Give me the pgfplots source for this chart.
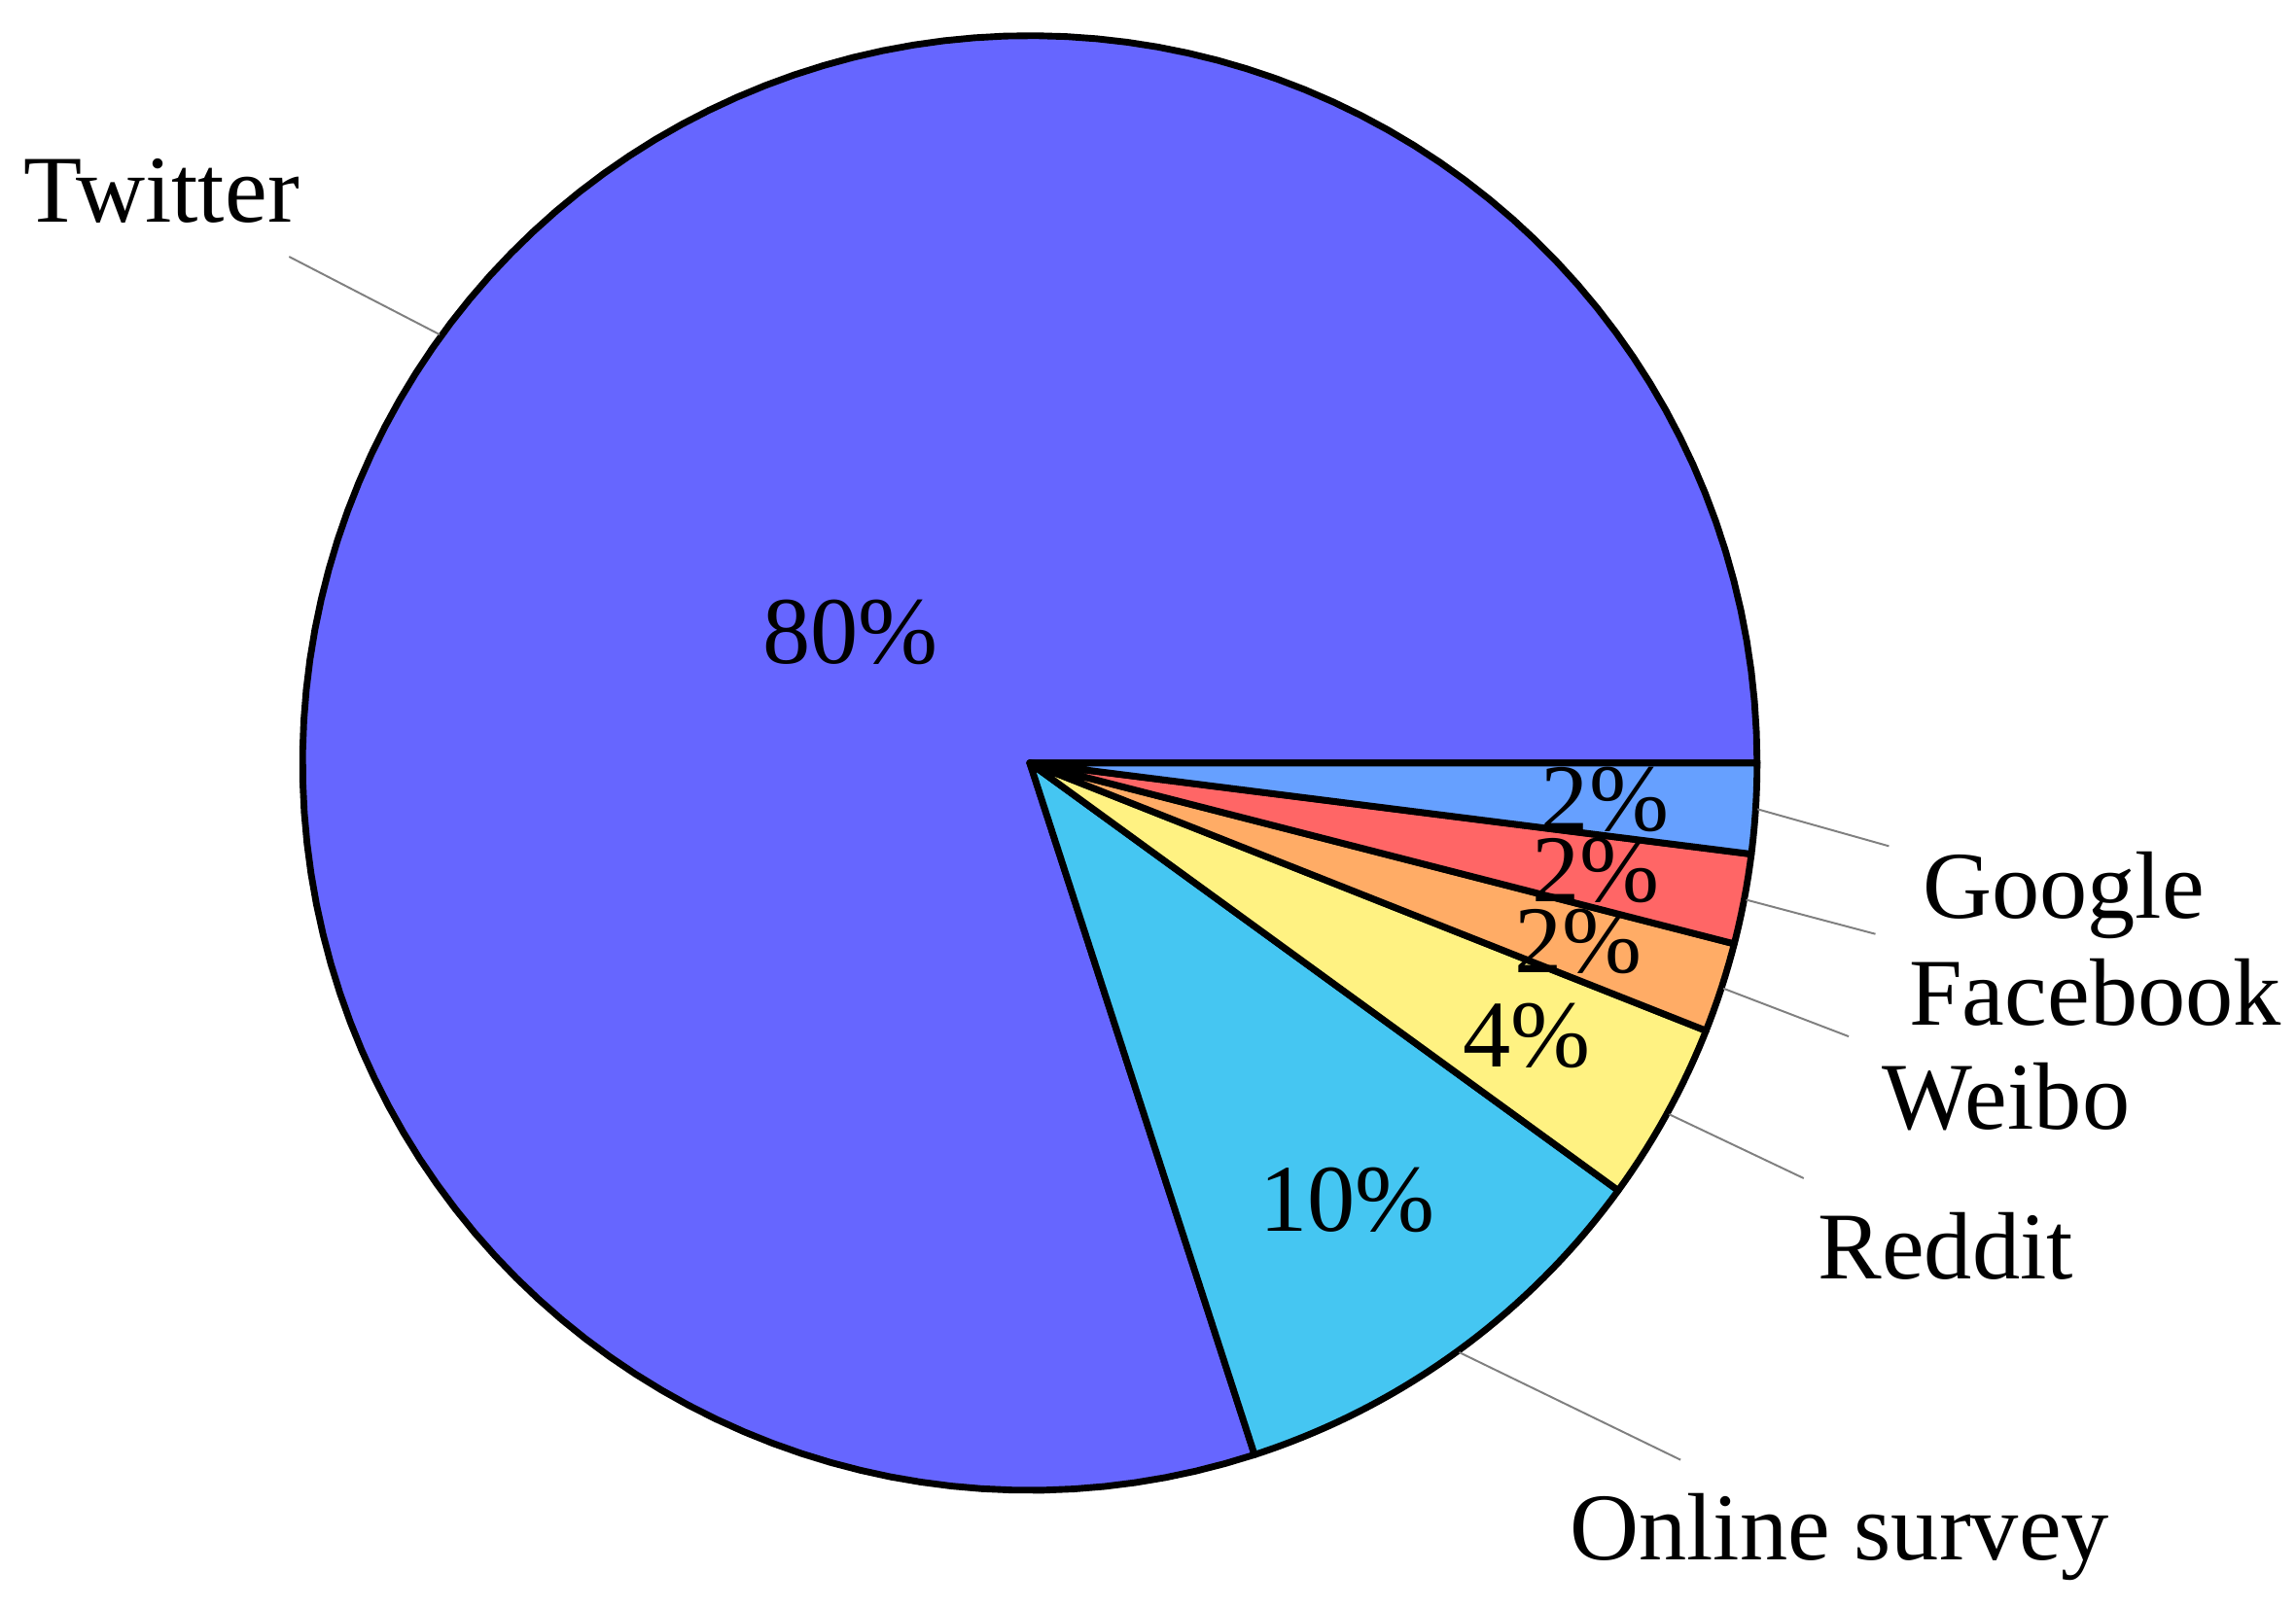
\documentclass[border=0pt]{standalone}
\usepackage{fontspec}
\setmainfont{Liberation Serif}
\usepackage{pgfplots}
\pgfplotsset{compat=1.18}

\definecolor{cTwitter}{RGB}{102,102,255}
\definecolor{cSurvey}{RGB}{69,198,242}
\definecolor{cReddit}{RGB}{255,242,130}
\definecolor{cWeibo}{RGB}{255,172,102}
\definecolor{cFacebook}{RGB}{255,102,102}
\definecolor{cGoogle}{RGB}{102,160,255}

% #1 start (percent), #2 share (percent), #3 colour, #4 label
\newcommand{\pieslice}[4]{%
  \pgfmathsetmacro\angA{3.6*#1}%
  \pgfmathsetmacro\angB{3.6*(#1+#2)}%
  \pgfmathsetmacro\angM{3.6*(#1+#2/2)}%
  \pgfmathsetmacro\rin{0.805-0.00625*#2}%
  \edef\doslice{%
    \noexpand\addplot[fill=#3, draw=black, line width=0.7pt, line join=round,
      domain=\angA:\angB, samples=120, variable=\noexpand\t]
      ({cos(\noexpand\t)},{sin(\noexpand\t)}) -- (axis cs:0,0) -- cycle;
    \noexpand\node at (axis cs:{\rin*cos(\angM)},{\rin*sin(\angM)}) {#2\noexpand\%};
    \noexpand\node[inner sep=0pt, minimum size=0pt, pin={\angM:#4}]
      at (axis cs:{cos(\angM)},{sin(\angM)}) {};
  }%
  \doslice
}

\begin{document}
\begin{tikzpicture}
\begin{axis}[
    scale only axis,
    width=240pt, height=168pt,
    xmin=-1.416, xmax=1.741,
    ymin=-1.160, ymax=1.049,
    hide axis, clip=false
]
\pieslice{0}{80}{cTwitter}{Twitter}
\pieslice{80}{10}{cSurvey}{Online survey}
\pieslice{90}{4}{cReddit}{Reddit}
\pieslice{94}{2}{cWeibo}{Weibo}
\pieslice{96}{2}{cFacebook}{Facebook}
\pieslice{98}{2}{cGoogle}{Google}
\end{axis}
\pgfresetboundingbox
\path (current axis.south west) rectangle (current axis.north east);
\end{tikzpicture}
\end{document}
